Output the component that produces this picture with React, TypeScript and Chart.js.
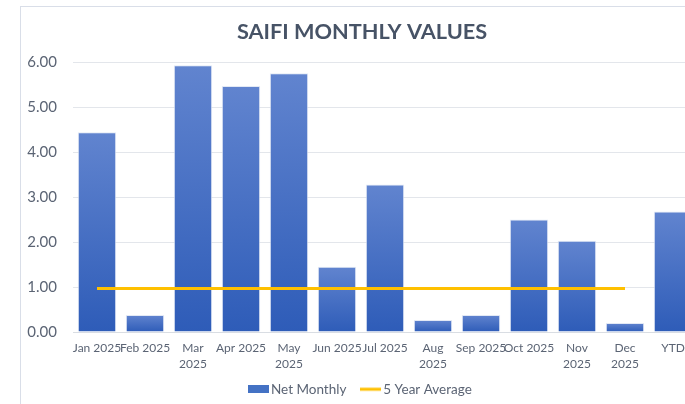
import React, { useEffect, useRef } from "react";
import { Chart, registerables } from "chart.js";

Chart.register(...registerables);

const categories: (string | string[])[] = [
  "Jan 2025", "Feb 2025", ["Mar", "2025"], "Apr 2025", ["May", "2025"], "Jun 2025",
  "Jul 2025", ["Aug", "2025"], "Sep 2025", "Oct 2025", ["Nov", "2025"], ["Dec", "2025"], "YTD",
];
const netMonthly = [4.44, 0.38, 5.93, 5.47, 5.75, 1.45, 3.28, 0.27, 0.38, 2.5, 2.03, 0.2, 2.68];
const fiveYearAverage = [0.97, 0.97, 0.97, 0.97, 0.97, 0.97, 0.97, 0.97, 0.97, 0.97, 0.97, 0.97, null];
const yTicks = [0, 1, 2, 3, 4, 5, 6];

const FONT = "Lato, 'Open Sans', sans-serif";
const TEXT = "#5b6474";
const BAR_COLOR = "#4472c4";
const LINE_COLOR = "#ffc000";

function makeSwatch(kind: "rect" | "line"): HTMLCanvasElement {
  const c = document.createElement("canvas");
  c.width = 21;
  c.height = 8;
  const g = c.getContext("2d")!;
  if (kind === "rect") {
    g.fillStyle = BAR_COLOR;
    g.fillRect(0, 0, 21, 8);
  } else {
    g.fillStyle = LINE_COLOR;
    g.fillRect(0, 2.5, 21, 3);
  }
  return c;
}

export default function App() {
  const ref = useRef<HTMLCanvasElement>(null);
  useEffect(() => {
    const canvas = ref.current!;
    const rectSwatch = makeSwatch("rect");
    const lineSwatch = makeSwatch("line");
    const chart = new Chart(canvas, {
      data: {
        labels: categories,
        datasets: [
          {
            type: "line",
            label: "5 Year Average",
            data: fiveYearAverage,
            borderColor: LINE_COLOR,
            backgroundColor: LINE_COLOR,
            borderWidth: 3,
            pointRadius: 0,
            order: 0,
          },
          {
            type: "bar",
            label: "Net Monthly",
            data: netMonthly,
            backgroundColor: (ctx: any) => {
              const c = ctx.chart;
              const ys = c.scales?.y;
              if (!ys || ctx.parsed == null) return BAR_COLOR;
              const top = ys.getPixelForValue(ctx.parsed.y);
              const bot = ys.getPixelForValue(0);
              if (!isFinite(top) || !isFinite(bot) || top === bot) return BAR_COLOR;
              const g = c.ctx.createLinearGradient(0, top, 0, bot);
              g.addColorStop(0, "#6184cf");
              g.addColorStop(1, "#2e5cb8");
              return g;
            },
            borderColor: "rgba(220,228,242,0.8)",
            borderWidth: 1,
            barPercentage: 0.8,
            categoryPercentage: 1,
            order: 1,
          },
        ],
      } as any,
      options: {
        animation: false,
        responsive: false,
        maintainAspectRatio: false,
        layout: { padding: { left: 7, right: 9, top: 0, bottom: -2 } },
        plugins: {
          title: {
            display: true,
            text: "SAIFI MONTHLY VALUES",
            color: "#475366",
            font: { family: FONT, size: 21.7, weight: "bold" },
            padding: { top: 19, bottom: 17 },
          },
          legend: {
            position: "bottom",
            reverse: true,
            labels: {
              color: TEXT,
              font: { family: FONT, size: 13.5 },
              usePointStyle: true,
              pointStyleWidth: 12,
              boxHeight: 8,
              padding: 8,
              generateLabels: (c: any) =>
                c.data.datasets.map((ds: any, i: number) => ({
                  text: ds.type === "bar" ? ds.label + "\u2003" : ds.label,
                  fillStyle: ds.type === "bar" ? BAR_COLOR : LINE_COLOR,
                  strokeStyle: ds.type === "bar" ? BAR_COLOR : LINE_COLOR,
                  lineWidth: 0,
                  pointStyle: ds.type === "bar" ? rectSwatch : lineSwatch,
                  fontColor: TEXT,
                  hidden: false,
                  datasetIndex: i,
                })),
            },
          },
          tooltip: { enabled: false },
        },
        scales: {
          x: {
            grid: { display: false, drawTicks: false },
            border: { display: true, color: "#d9dde3", width: 1 },
            afterFit: (s: any) => {
              s.height = s.height - 6;
            },
            ticks: {
              color: TEXT,
              font: { family: FONT, size: 12, lineHeight: 1.35 },
              maxRotation: 0,
              autoSkip: false,
              padding: 8,
            },
          },
          y: {
            min: 0,
            max: 6,
            afterFit: (s: any) => {
              s.width = 46;
            },
            afterBuildTicks: (s: any) => {
              s.ticks = yTicks.map((v) => ({ value: v }));
            },
            grid: { color: "#e3e6eb", drawTicks: false },
            border: { display: false },
            ticks: {
              color: TEXT,
              font: { family: FONT, size: 15 },
              padding: 16,
              callback: (v: any) => Number(v).toFixed(2),
            },
          },
        },
      } as any,
    });
    return () => chart.destroy();
  }, []);

  return (
    <div style={{ position: "fixed", left: 0, top: 0, width: 685, height: 404, overflow: "hidden", background: "#fff" }}>
      <div
        style={{
          position: "absolute",
          left: 20,
          top: 6,
          width: 800,
          height: 500,
          borderLeft: "1px solid #d9dee8",
          borderTop: "1px solid #d9dee8",
        }}
      />
      <canvas ref={ref} width={686} height={404} style={{ position: "absolute", left: 20, top: 0, width: 686, height: 404 }} />
    </div>
  );
}
